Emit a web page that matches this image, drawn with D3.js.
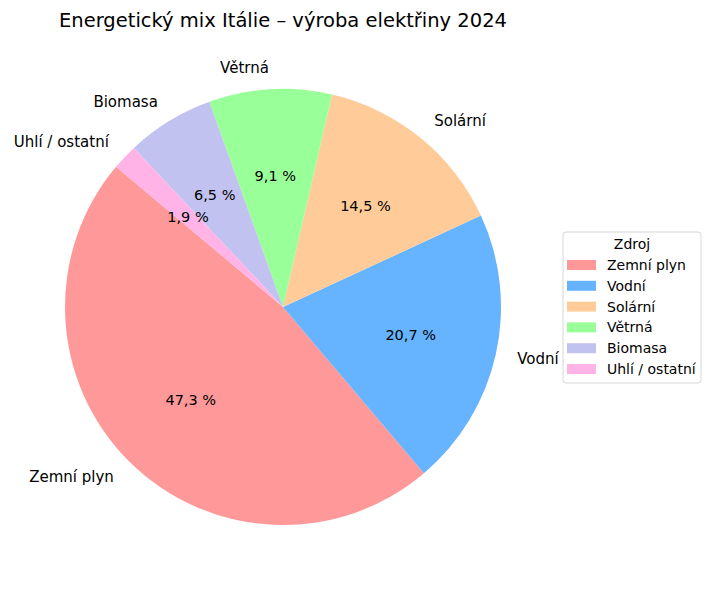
<!DOCTYPE html>
<html><head><meta charset="utf-8">
<script src="https://cdn.jsdelivr.net/npm/d3@7"></script>
<style>body{margin:0;background:#fff}svg{font-family:"DejaVu Sans",sans-serif}</style>
</head><body><svg id="c" width="710" height="590"></svg>
<script>
const categories = ["Zemní plyn","Vodní","Solární","Větrná","Biomasa","Uhlí / ostatní"];
const values = [47.3, 20.7, 14.5, 9.1, 6.5, 1.9];
const colors = ["#ff9999","#66b3ff","#ffcc99","#99ff99","#c2c2f0","#ffb3e6"];
const title = "Energetický mix Itálie – výroba elektřiny 2024";
const legendTitle = "Zdroj";

const svg = d3.select("#c");
const cx = 283, cy = 307, R = 218;
const data = categories.map((c,i)=>({cat:c, v:values[i], col:colors[i]}));
const startDeg = 140; // matplotlib startangle, counterclockwise
const toRad = d => d*Math.PI/180;
const pie = d3.pie().value(d=>d.v).sort(null)
  .startAngle(toRad(90-startDeg)).endAngle(toRad(90-startDeg-360));
const arcs = pie(data);
const arc = d3.arc().innerRadius(0).outerRadius(R);
const g = svg.append("g").attr("transform",`translate(${cx},${cy})`);
g.selectAll("path").data(arcs).join("path")
  .attr("d", d=>arc({startAngle:Math.min(d.startAngle,d.endAngle), endAngle:Math.max(d.startAngle,d.endAngle)}))
  .attr("fill", d=>d.data.col);
const fmt = v => d3.format(".1f")(v).replace(".", ",") + " %";
arcs.forEach(d=>{
  const m = (d.startAngle+d.endAngle)/2;
  const sx = Math.sin(m), sy = -Math.cos(m);
  g.append("text").attr("x", sx*R*1.1).attr("y", sy*R*1.1)
    .attr("text-anchor", sx<0?"end":"start").attr("dominant-baseline","central")
    .attr("font-size",15).attr("fill","#000").text(d.data.cat);
  g.append("text").attr("x", sx*R*0.6).attr("y", sy*R*0.6)
    .attr("text-anchor","middle").attr("dominant-baseline","central")
    .attr("font-size",14.5).attr("fill","#000").text(fmt(d.data.v));
});
svg.append("text").attr("x",283).attr("y",20).attr("text-anchor","middle")
  .attr("dominant-baseline","central").attr("font-size",19.5).text(title);
// legend
const lg = svg.append("g").attr("transform","translate(563,232)");
lg.append("rect").attr("width",138).attr("height",151).attr("rx",3)
  .attr("fill","#fff").attr("stroke","#d6d6d6").attr("stroke-width",1);
lg.append("text").attr("x",69).attr("y",12).attr("text-anchor","middle")
  .attr("dominant-baseline","central").attr("font-size",14).text(legendTitle);
const items = lg.selectAll("g.it").data(data).join("g").attr("class","it")
  .attr("transform",(d,i)=>`translate(4,${33+i*20.8})`);
items.append("rect").attr("x",0).attr("y",-5).attr("width",29).attr("height",10).attr("fill",d=>d.col);
items.append("text").attr("x",40).attr("y",0).attr("dominant-baseline","central")
  .attr("font-size",14).text(d=>d.cat);
</script></body></html>
